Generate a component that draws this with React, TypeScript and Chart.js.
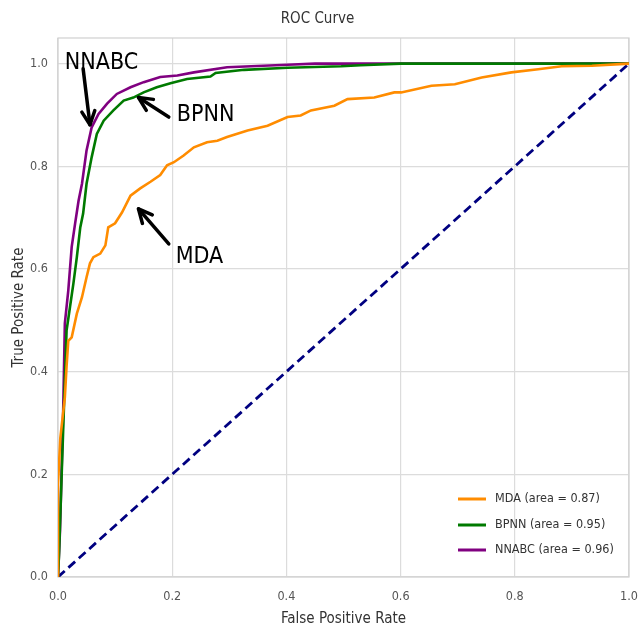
import React, { useEffect, useRef } from "react";
import { Chart, registerables } from "chart.js";

Chart.register(...registerables);

// ---- data ----
const seriesLabels = ["MDA (area = 0.87)", "BPNN (area = 0.95)", "NNABC (area = 0.96)"];
const seriesColors = ["#ff8c00", "#007a00", "#800080"];

const mdaFpr = [0, 0, 0.004, 0.012, 0.015, 0.018, 0.024, 0.033, 0.042, 0.050, 0.056, 0.062, 0.074, 0.083, 0.088, 0.100, 0.112, 0.127, 0.144, 0.162, 0.179, 0.191, 0.203, 0.220, 0.238, 0.261, 0.279, 0.296, 0.332, 0.367, 0.402, 0.425, 0.443, 0.484, 0.507, 0.554, 0.589, 0.601, 0.654, 0.695, 0.742, 0.794, 0.841, 0.882, 0.935, 1.0];
const mdaTpr = [0, 0.18, 0.27, 0.35, 0.41, 0.46, 0.467, 0.513, 0.545, 0.584, 0.611, 0.623, 0.630, 0.646, 0.681, 0.689, 0.710, 0.743, 0.757, 0.770, 0.783, 0.802, 0.808, 0.821, 0.837, 0.847, 0.850, 0.857, 0.870, 0.879, 0.896, 0.899, 0.909, 0.918, 0.931, 0.934, 0.944, 0.944, 0.957, 0.960, 0.973, 0.983, 0.989, 0.995, 0.996, 1.0];

const bpnnFpr = [0, 0.002, 0.0065, 0.012, 0.015, 0.021, 0.027, 0.033, 0.039, 0.044, 0.050, 0.059, 0.068, 0.080, 0.097, 0.115, 0.132, 0.150, 0.173, 0.197, 0.226, 0.267, 0.276, 0.326, 0.402, 0.496, 0.530, 0.600, 1.0];
const bpnnTpr = [0, 0.05, 0.202, 0.383, 0.48, 0.526, 0.572, 0.623, 0.681, 0.708, 0.766, 0.818, 0.863, 0.889, 0.909, 0.928, 0.934, 0.944, 0.954, 0.962, 0.970, 0.975, 0.982, 0.988, 0.992, 0.995, 0.997, 1.0, 1.0];

const nnabcFpr = [0, 0.0035, 0.009, 0.012, 0.018, 0.024, 0.030, 0.036, 0.042, 0.050, 0.059, 0.071, 0.086, 0.103, 0.127, 0.150, 0.179, 0.209, 0.238, 0.296, 0.402, 0.450, 1.0];
const nnabcTpr = [0, 0.09, 0.319, 0.494, 0.558, 0.643, 0.689, 0.733, 0.766, 0.831, 0.876, 0.902, 0.922, 0.941, 0.954, 0.964, 0.974, 0.977, 0.983, 0.993, 0.998, 1.0, 1.0];

const chanceFpr = [0, 1];
const chanceTpr = [0, 1];

const xTicks = [0, 0.2, 0.4, 0.6, 0.8, 1.0];
const yTicks = [0, 0.2, 0.4, 0.6, 0.8, 1.0];

// annotations (data coordinates)
const noteLabels = ["NNABC", "BPNN", "MDA"];
const noteTextX = [0.012, 0.208, 0.206];
const noteTextY = [1.002, 0.899, 0.623];
const arrowTailX = [0.044, 0.194, 0.194];
const arrowTailY = [0.990, 0.896, 0.649];
const arrowHeadX = [0.056, 0.141, 0.141];
const arrowHeadY = [0.881, 0.934, 0.717];

const FONT = "'Liberation Sans Narrow', 'DejaVu Sans Condensed', 'Liberation Sans', Arial, sans-serif";

const toPoints = (xs: number[], ys: number[]) => xs.map((x, i) => ({ x, y: ys[i] }));

const framePlugin = {
  id: "frame",
  beforeDatasetsDraw(chart: any) {
    const { ctx, chartArea } = chart;
    ctx.save();
    ctx.strokeStyle = "#d0d0d0";
    ctx.lineWidth = 1.2;
    ctx.strokeRect(chartArea.left, chartArea.top, chartArea.right - chartArea.left, chartArea.bottom - chartArea.top);
    ctx.restore();
  },
};

const annotationPlugin = {
  id: "notes",
  afterDatasetsDraw(chart: any) {
    const { ctx } = chart;
    const xs = chart.scales.x;
    const ys = chart.scales.y;
    ctx.save();
    ctx.fillStyle = "#000";
    ctx.strokeStyle = "#000";
    ctx.font = `23px ${FONT}`;
    ctx.textBaseline = "middle";
    ctx.textAlign = "left";
    noteLabels.forEach((t, i) => {
      ctx.fillText(t, xs.getPixelForValue(noteTextX[i]), ys.getPixelForValue(noteTextY[i]));
      const x0 = xs.getPixelForValue(arrowTailX[i]);
      const y0 = ys.getPixelForValue(arrowTailY[i]);
      const x1 = xs.getPixelForValue(arrowHeadX[i]);
      const y1 = ys.getPixelForValue(arrowHeadY[i]);
      const ang = Math.atan2(y1 - y0, x1 - x0);
      ctx.lineWidth = 3.5;
      ctx.lineCap = "round";
      ctx.lineJoin = "round";
      ctx.beginPath();
      ctx.moveTo(x0, y0);
      ctx.lineTo(x1, y1);
      ctx.stroke();
      const hl = 15;
      const spread = 0.45;
      ctx.beginPath();
      ctx.moveTo(x1 - hl * Math.cos(ang - spread), y1 - hl * Math.sin(ang - spread));
      ctx.lineTo(x1, y1);
      ctx.lineTo(x1 - hl * Math.cos(ang + spread), y1 - hl * Math.sin(ang + spread));
      ctx.stroke();
    });
    ctx.restore();
  },
};

const legendPlugin = {
  id: "innerLegend",
  afterDraw(chart: any) {
    const { ctx, chartArea } = chart;
    ctx.save();
    ctx.font = `12.5px ${FONT}`;
    ctx.textBaseline = "middle";
    ctx.textAlign = "left";
    const offsets = [78, 52, 27];
    seriesLabels.forEach((lab, i) => {
      const y = chartArea.bottom - offsets[i];
      const x0 = chartArea.right - 171;
      ctx.strokeStyle = seriesColors[i];
      ctx.lineWidth = 3;
      ctx.beginPath();
      ctx.moveTo(x0, y);
      ctx.lineTo(x0 + 28, y);
      ctx.stroke();
      ctx.fillStyle = "#333";
      ctx.fillText(lab, x0 + 37, y);
    });
    ctx.restore();
  },
};

export default function App() {
  const ref = useRef<HTMLCanvasElement | null>(null);
  useEffect(() => {
    if (!ref.current) return;
    const lineDs = (label: string, xs: number[], ys: number[], color: string) => ({
      label,
      data: toPoints(xs, ys),
      borderColor: color,
      backgroundColor: color,
      borderWidth: 2.6,
      pointRadius: 0,
      tension: 0,
      fill: false,
    });
    const chart = new Chart(ref.current, {
      type: "line",
      data: {
        datasets: [
          lineDs(seriesLabels[0], mdaFpr, mdaTpr, seriesColors[0]),
          lineDs(seriesLabels[1], bpnnFpr, bpnnTpr, seriesColors[1]),
          lineDs(seriesLabels[2], nnabcFpr, nnabcTpr, seriesColors[2]),
          {
            label: "chance",
            data: toPoints(chanceFpr, chanceTpr),
            borderColor: "#000080",
            borderWidth: 2.8,
            borderDash: [9, 5],
            pointRadius: 0,
            fill: false,
          },
        ],
      },
      options: {
        animation: false,
        responsive: false,
        layout: { padding: { left: 0, right: 4, top: 0, bottom: 0 } },
        plugins: {
          legend: { display: false },
          tooltip: { enabled: false },
          title: {
            display: true,
            text: "ROC Curve",
            color: "#333",
            font: { family: FONT, size: 15, weight: "normal" },
            padding: { top: 10, bottom: 10 },
          },
        },
        scales: {
          x: {
            type: "linear",
            min: 0,
            max: 1,
            afterBuildTicks: (s: any) => { s.ticks = xTicks.map((v) => ({ value: v })); },
            afterFit: (s: any) => { s.height = 51; s.paddingRight = 10; s.paddingLeft = 0; },
            grid: { color: "#dcdcdc", lineWidth: 1.2, drawTicks: false },
            border: { display: false },
            ticks: {
              color: "#555",
              padding: 12,
              font: { family: FONT, size: 12.5 },
              callback: (v: any) => Number(v).toFixed(1),
            },
            title: {
              display: true,
              text: "False Positive Rate",
              color: "#333",
              font: { family: FONT, size: 15 },
              padding: { top: 2, bottom: 0 },
            },
          },
          y: {
            type: "linear",
            min: 0,
            max: 1.05,
            afterBuildTicks: (s: any) => { s.ticks = yTicks.map((v) => ({ value: v })); },
            afterFit: (s: any) => { s.width = 58; },
            grid: { color: "#dcdcdc", lineWidth: 1.2, drawTicks: false },
            border: { display: false },
            ticks: {
              color: "#555",
              padding: 10,
              font: { family: FONT, size: 12.5 },
              callback: (v: any) => Number(v).toFixed(1),
            },
            title: {
              display: true,
              text: "True Positive Rate",
              color: "#333",
              font: { family: FONT, size: 15 },
              padding: { top: 10, bottom: 0 },
            },
          },
        },
      },
      plugins: [framePlugin, annotationPlugin, legendPlugin],
    } as any);
    return () => chart.destroy();
  }, []);
  return (
    <div style={{ position: "fixed", left: 0, top: 0, width: 639, height: 628, background: "#fff" }}>
      <canvas ref={ref} width={639} height={628} style={{ width: 639, height: 628 }} />
    </div>
  );
}
